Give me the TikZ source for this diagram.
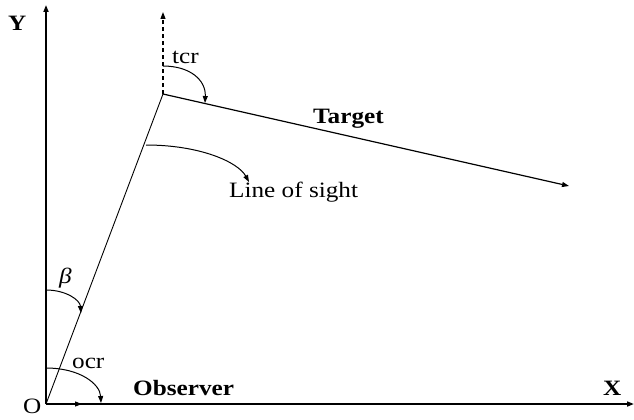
\documentclass[tikz,border=0pt]{standalone}
\usepackage{fontspec}
\setmainfont[FakeStretch=1.15]{Liberation Serif}
\usetikzlibrary{arrows.meta}
\tikzset{
  tip/.style={-{Triangle[length=7pt,width=5pt]}},
  lbl/.style={inner sep=0pt,anchor=base west,font=\fontsize{22}{26}\selectfont},
  blbl/.style={lbl,font=\fontsize{22}{26}\selectfont\bfseries}
}

\begin{document}
\begin{tikzpicture}[x=1bp,y=-1bp]
		\useasboundingbox (0,0) rectangle (634,419);
		% points
		\coordinate (O) at (46,404);
		\coordinate (xend) at (634,404);
		\coordinate (yend) at (46,5);
		\coordinate (tgt) at (163,94);
		\coordinate (tgtup) at (163,12);
		\coordinate (tgtend) at (569,186);
		\coordinate (vobs) at (82,404);
		% axes
		\draw[line width=1.6pt,tip] (O) -- (xend);
		\draw[line width=1.6pt,tip] (O) -- (yend);
		\draw[line width=1pt,tip] (O) -- (vobs);
		% line of sight and target course
		\draw[line width=0.9pt] (O) -- (tgt);
		\draw[line width=1.2pt,tip] (tgt) -- (tgtend);
		\draw[line width=1.2pt,dashed,dash pattern=on 4pt off 3pt,tip] (tgt) -- (tgtup);
		% angle arcs
		\coordinate (tcrA) at (163,66);
		\coordinate (tcrB) at (205,103);
		\draw[line width=1pt,tip] (tcrA) .. controls (190,66) and (206,80) .. (tcrB);
		\coordinate (losA) at (146,145);
		\coordinate (losB) at (249,182);
		\draw[line width=1pt,tip] (losA) .. controls (200,145) and (238,162) .. (losB);
		\coordinate (betaA) at (46,290);
		\coordinate (betaB) at (81,313);
		\draw[line width=1pt,tip] (betaA) .. controls (66,290) and (80,300) .. (betaB);
		\coordinate (ocrA) at (46,368);
		\coordinate (ocrB) at (101,403);
		\draw[line width=1pt,tip] (ocrA) .. controls (80,368) and (100,384) .. (ocrB);
		% labels
		\node[blbl] (ylab) at (8,30) {Y};
		\node[blbl] (xlab) at (603,395) {X};
		\node[lbl] (olab) at (23,413) {O};
		\node[lbl] (tcr) at (172,63) {tcr};
		\node[lbl] (ocr) at (72,368) {ocr};
		\node[lbl] (beta) at (59,283) {\itshape β};
		\node[blbl] (target) at (313,123) {Target};
		\node[blbl] (observer) at (133,395) {Observer};
		\node[lbl] (los) at (229,197) {Line of sight};
\end{tikzpicture}
\end{document}
